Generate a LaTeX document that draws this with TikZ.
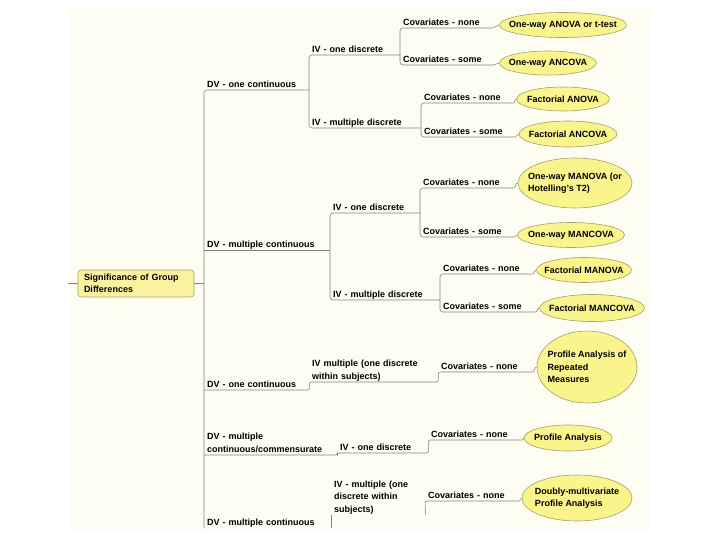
\documentclass[tikz,border=0pt]{standalone}
\usepackage{fontspec}
\setmainfont{Liberation Sans}
\usetikzlibrary{shapes.geometric}
\definecolor{paper}{RGB}{254,253,242}
\definecolor{leafyellow}{RGB}{250,244,140}
\definecolor{rootyellow}{RGB}{250,242,160}
\definecolor{branchgray}{RGB}{130,130,130}
\definecolor{edgegray}{RGB}{165,158,115}
\tikzset{
  topic/.style={anchor=south west, align=left, inner xsep=3pt, inner ysep=-1.2pt,
    execute at end node=\strut, font=\fontsize{9}{12.5}\selectfont\bfseries},
  branch/.style={draw=branchgray, line width=0.6pt},
  leaf/.style={ellipse, draw=edgegray, fill=leafyellow, line width=0.6pt,
    inner xsep=-14pt, inner ysep=-10pt, align=left, font=\fontsize{9}{12.5}\selectfont\bfseries},
  root/.style={rectangle, rounded corners=3pt, draw=edgegray, fill=rootyellow, line width=0.6pt,
    text width=104pt, inner xsep=6pt, minimum height=27pt, align=left, font=\fontsize{9}{12.5}\selectfont\bfseries}
}
\begin{document}
\begin{tikzpicture}[x=1pt,y=-1pt]
\useasboundingbox (0,0) rectangle (720,540);
\fill[paper] (70,8) rectangle (650,530);

\node[root] (root) at (136,283.5) {Significance of Group\\Differences};
\coordinate (stub) at (68,283.5);
\draw[branch] (stub) -- (root.west);

\node[topic,text width=99pt] (dv1) at (204,90) {DV - one continuous};
\node[topic,text width=120pt] (dv2) at (204,250) {DV - multiple continuous};
\node[topic,text width=99pt] (dv3) at (204,390) {DV - one continuous};
\node[topic,text width=127pt] (dv4) at (204,455) {DV - multiple\\continuous/commensurate};
\node[topic,text width=120pt] (dv5) at (204,528) {DV - multiple continuous};
\draw[branch] (root.east) -- (root.east -| dv1.south west);
\draw[branch,rounded corners=3pt] (dv1.south east) -- (dv1.south west) -- (dv5.south west);
\draw[branch] (dv2.south west) -- (dv2.south east);

\begin{scope}
\node[topic,text width=85pt] (iv1) at (309,55) {IV - one discrete};
\node[topic,text width=106pt] (iv2) at (309,128) {IV - multiple discrete};
\draw[branch,rounded corners=3pt] (iv1.south east) -- (iv1.south west) -- (iv2.south west) -- (iv2.south east);

\node[topic,text width=86pt] (cv1) at (400,28) {Covariates - none};
\node[topic,text width=87pt] (cv2) at (400,65) {Covariates - some};
\draw[branch,rounded corners=3pt] (cv1.south east) -- (cv1.south west) -- (cv2.south west) -- (cv2.south east);
\node[topic,text width=86pt] (cv3) at (421,103) {Covariates - none};
\node[topic,text width=88pt] (cv4) at (421,137) {Covariates - some};
\draw[branch,rounded corners=3pt] (cv3.south east) -- (cv3.south west) -- (cv4.south west) -- (cv4.south east);

\node[leaf,minimum width=127pt,minimum height=25pt] (t1) at (563,25) {One-way ANOVA or t-test};
\node[leaf,minimum width=97pt,minimum height=24pt] (t2) at (548,63) {One-way ANCOVA};
\node[leaf,minimum width=93pt,minimum height=24pt] (t3) at (563,99) {Factorial ANOVA};
\node[leaf,minimum width=98pt,minimum height=26pt] (t4) at (568,134) {Factorial ANCOVA};
\end{scope}

\begin{scope}
\node[topic,text width=84pt] (iv3) at (330,213) {IV - one discrete};
\node[topic,text width=104pt] (iv4) at (330,300) {IV - multiple discrete};
\draw[branch,rounded corners=3pt] (iv3.south east) -- (iv3.south west) -- (iv4.south west) -- (iv4.south east);

\node[topic,text width=87pt] (cv5) at (420,188) {Covariates - none};
\node[topic,text width=88pt] (cv6) at (420,237) {Covariates - some};
\draw[branch,rounded corners=3pt] (cv5.south east) -- (cv5.south west) -- (cv6.south west) -- (cv6.south east);
\node[topic,text width=86pt] (cv7) at (440,274) {Covariates - none};
\node[topic,text width=89pt] (cv8) at (440,312) {Covariates - some};
\draw[branch,rounded corners=3pt] (cv7.south east) -- (cv7.south west) -- (cv8.south west) -- (cv8.south east);

\node[leaf,minimum width=114pt,minimum height=50pt] (t5) at (575,183) {One-way MANOVA (or\\Hotelling's T2)};
\node[leaf,minimum width=107pt,minimum height=25pt] (t6) at (571,235) {One-way MANCOVA};
\node[leaf,minimum width=95pt,minimum height=25pt] (t7) at (584,270) {Factorial MANOVA};
\node[leaf,minimum width=105pt,minimum height=27pt] (t8) at (592,308) {Factorial MANCOVA};
\end{scope}

\begin{scope}
\node[topic,text width=123pt] (iv5) at (309,382) {IV multiple (one discrete\\within subjects)};
\node[topic,text width=88pt] (cv9) at (438,372) {Covariates - none};
\draw[branch,rounded corners=2pt] (dv3.south west) -- (dv3.south east) |- (iv5.south east) |- (cv9.south east);
\node[leaf,minimum width=100pt,minimum height=72pt] (t9) at (587,367) {Profile Analysis of\\Repeated\\Measures};

\node[topic,text width=85pt] (iv6) at (337,453) {IV - one discrete};
\node[topic,text width=88pt] (cv10) at (428,440) {Covariates - none};
\draw[branch,rounded corners=2pt] (dv4.south west) -- (dv4.south east) |- (iv6.south east) |- (cv10.south east);
\node[leaf,minimum width=88pt,minimum height=26pt] (t10) at (568,438) {Profile Analysis};

\node[topic,text width=88pt] (iv7) at (331,515) {IV - multiple (one\\discrete within\\subjects)};
\node[topic,text width=88pt] (cv11) at (425,501) {Covariates - none};
\draw[branch] (iv7.south west) -- (iv7.south west |- dv5.south west);
\draw[branch,rounded corners=2pt] (cv11.south east) -- (cv11.south west) -- (iv7.south east);
\node[leaf,minimum width=110pt,minimum height=46pt] (t11) at (577,498) {Doubly-multivariate\\Profile Analysis};
\end{scope}

\foreach \i in {1,...,11}
  \draw[branch] (cv\i.south east) to[out=0,in=180] (t\i.west);

\end{tikzpicture}
\end{document}
